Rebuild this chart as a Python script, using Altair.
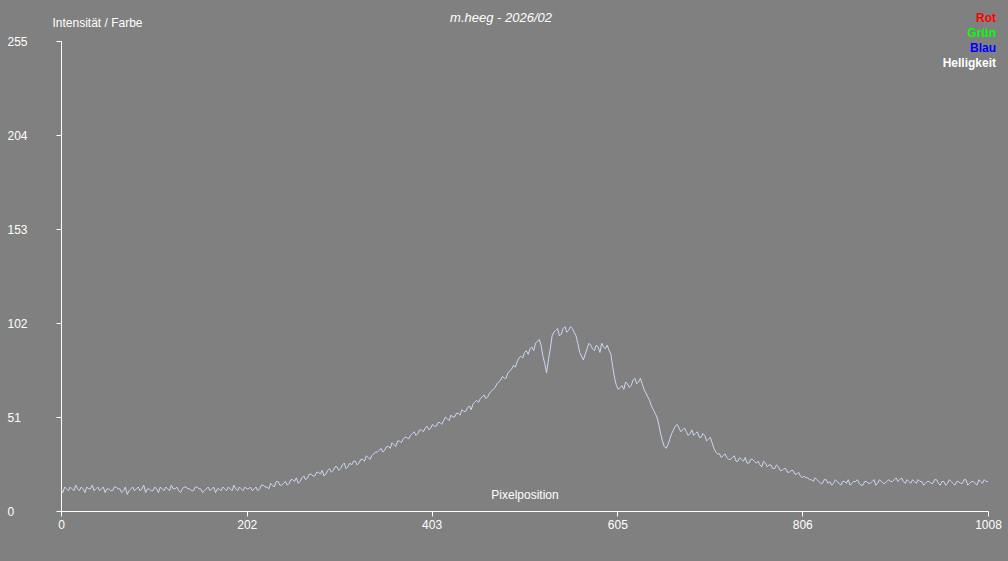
import altair as alt
import pandas as pd

# intensity values at pixel positions 0, 4, 8, ... 1008
intensity = [
    12, 13, 11, 12, 14, 11, 12, 13, 12, 11, 13, 12, 10, 12, 11, 13, 12, 11, 9, 12,
    11, 13, 12, 10, 12, 11, 12, 13, 11, 12, 14, 12, 11, 12, 13, 12, 11, 13, 12, 11,
    13, 12, 10, 12, 13, 11, 12, 14, 11, 12, 13,
    12, 11, 13, 12, 14, 13, 15, 13, 16, 14,
    16, 15, 17, 18, 16, 19, 18, 20,
    19, 21, 22, 20, 23, 22, 24, 23, 26, 24, 25,
    27, 26, 28, 30, 28, 31,
    32, 34, 33, 35, 37, 35, 38, 39, 40,
    41, 43, 42, 44, 45, 44, 47, 46, 48,
    49, 50, 52, 51, 53, 55, 54, 57, 58,
    60, 61, 63, 62, 65, 67,
    70, 73, 72, 76, 79, 81,
    84, 86, 85, 89, 91, 93,
    84, 75, 88,
    97, 99, 96, 100, 98, 99, 95,
    86, 82, 88,
    90, 87, 89, 91, 88, 87,
    78, 68,
    67, 66, 69, 68, 72, 70, 69,
    64, 60, 55,
    51, 42, 35,
    36, 42, 46, 45, 44,
    43, 42, 41, 43, 40, 41, 39,
    37, 32, 31,
    30, 29, 28, 30, 27, 28, 29, 26, 28,
    26, 25, 27, 24, 25, 23, 24, 22,
    23, 21, 22, 20, 19,
    19, 18, 17, 18,
    16, 15, 17, 16, 15, 16, 14, 16, 17, 15,
    16, 15, 14, 16, 15, 17, 15, 16, 15, 17,
    16, 18, 17, 16, 17, 15, 16, 17, 16, 15,
    16, 15, 17, 14, 16, 15, 16, 14, 16, 15,
    17, 15, 16, 14, 16, 17, 16,
]

# intensity values at pixel positions 2, 6, 10, ... 1006
intensity_mid = [
    10, 12, 13, 11, 12, 13, 10, 12, 14, 12, 11, 13, 12, 11, 13, 12, 10, 13, 11, 13,
    12, 11, 14, 12, 11, 13, 10, 12, 13, 11, 12, 13, 10, 13, 12, 11, 13, 12, 10, 12,
    11, 13, 12, 11, 12, 13, 11, 12, 13, 11, 12,
    13, 12, 11, 14, 13, 12, 14, 16, 14, 15,
    14, 17, 16, 15, 18, 17, 20, 19,
    21, 20, 19, 22, 21, 24, 22, 25, 23, 26, 27,
    25, 28, 27, 29, 30, 32,
    33, 32, 35, 34, 36, 38, 37, 40, 39,
    42, 41, 44, 43, 46, 45, 46, 48, 47,
    51, 49, 51, 53, 52, 54, 56, 55, 59,
    59, 62, 61, 64, 66, 69,
    71, 72, 75, 77, 78, 83,
    83, 87, 88, 87, 92, 90,
    80, 82, 95,
    98, 95, 99, 97, 100, 97, 91,
    84, 85, 91,
    88, 90, 86, 89, 90, 85,
    72, 66,
    68, 70, 67, 71, 69, 72, 66,
    62, 57, 53,
    47, 38, 34,
    39, 44, 47, 43, 45,
    41, 44, 42, 40, 42, 38, 40,
    34, 31, 29,
    31, 28, 29, 27, 29, 27, 26, 28, 27,
    27, 24, 26, 25, 23, 25, 22, 23,
    21, 22, 20, 21, 18,
    18, 17, 16, 17,
    15, 17, 15, 14, 17, 15, 16, 15, 14, 16,
    17, 14, 16, 15, 16, 14, 17, 15, 16, 16,
    17, 16, 18, 15, 16, 17, 15, 16, 14, 16,
    15, 17, 15, 16, 14, 17, 15, 16, 15, 17,
    14, 16, 15, 17, 15, 16,
]

x_ticks = [0, 202, 403, 605, 806, 1008]
y_ticks = [0, 51, 102, 153, 204, 255]

title_text = "m.heeg - 2026/02"
legend_labels = ["Rot", "Grün", "Blau", "Helligkeit"]
legend_colors = ["#ff0000", "#00ff00", "#0000ff", "#ffffff"]

df = pd.concat([
    pd.DataFrame({"pos": [i * 4 for i in range(len(intensity))], "val": intensity}),
    pd.DataFrame({"pos": [i * 4 + 2 for i in range(len(intensity_mid))], "val": intensity_mid}),
]).sort_values("pos")

W, H = 927, 470
FONT = "Liberation Sans"

line = alt.Chart(df).mark_line(color="#cdd7f3", strokeWidth=1).encode(
    x=alt.X("pos:Q", scale=alt.Scale(domain=[0, 1008], nice=False, zero=False),
            axis=alt.Axis(values=x_ticks, format="d", title="Pixelposition", titleY=-17,
                          titleX=W / 2, titleAlign="center", titleBaseline="middle",
                          titleFontWeight="normal", grid=False, tickSize=5,
                          labelPadding=3, labelFlush=False)),
    y=alt.Y("val:Q", scale=alt.Scale(domain=[0, 255], nice=False),
            axis=alt.Axis(values=y_ticks, title="Intensität / Farbe", titleAngle=0,
                          titleX=-9, titleY=-19, titleAlign="left", titleBaseline="middle",
                          titleFontWeight="normal", grid=False, tickSize=5,
                          labelAlign="left", labelPadding=49, labelBaseline="middle")),
)

layers = [line]
layers.append(
    alt.Chart(pd.DataFrame({"t": [title_text]})).mark_text(
        align="center", baseline="middle", fontStyle="italic", fontSize=13,
        font=FONT, color="white"
    ).encode(text="t:N", x=alt.value(440), y=alt.value(-23))
)
for i, (lab, col) in enumerate(zip(legend_labels, legend_colors)):
    layers.append(
        alt.Chart(pd.DataFrame({"t": [lab]})).mark_text(
            align="right", baseline="middle", fontWeight="bold", fontSize=12,
            font=FONT, color=col
        ).encode(text="t:N", x=alt.value(935), y=alt.value(-23 + 15 * i))
    )

chart = alt.layer(*layers).properties(
    width=W, height=H,
    background="#808080",
    padding={"left": 61, "top": 41, "right": 20, "bottom": 50},
    autosize=alt.AutoSizeParams(type="none"),
).configure_view(stroke=None).configure_axis(
    domainColor="white", tickColor="white", labelColor="white", titleColor="white",
    labelFont=FONT, titleFont=FONT, labelFontSize=12, titleFontSize=12,
    domainWidth=1, tickWidth=1,
)

chart.save("out.html", embed_options={"renderer": "svg", "actions": False})
